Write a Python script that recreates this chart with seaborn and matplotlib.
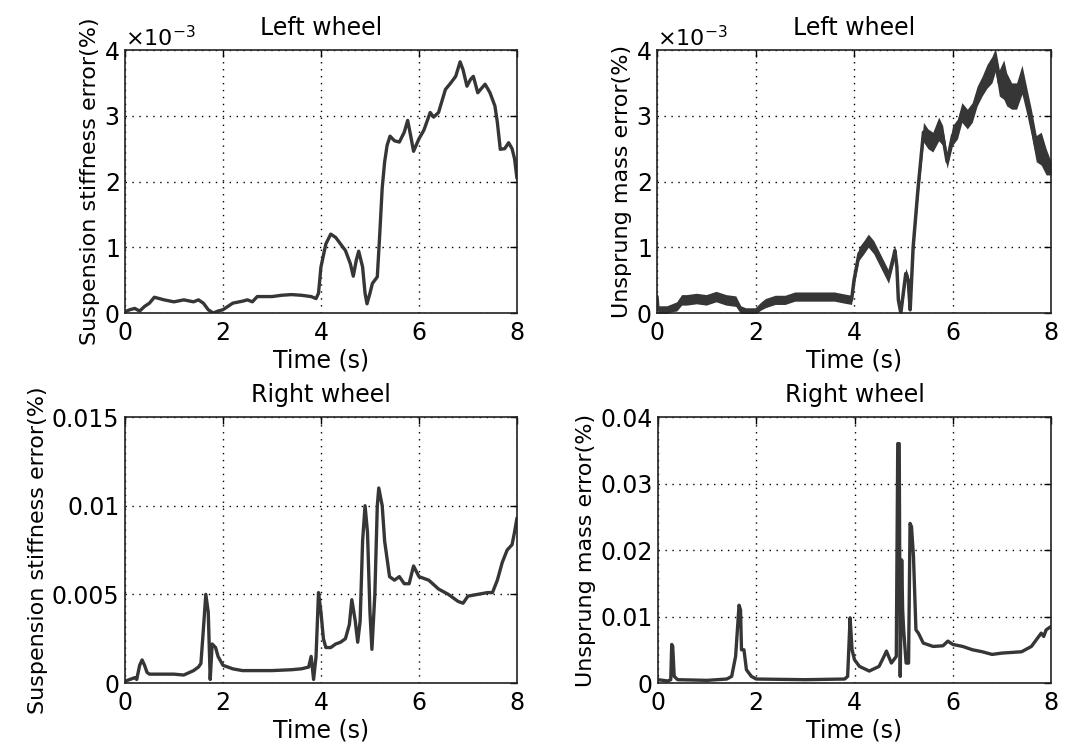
import numpy as np
import pandas as pd
import seaborn as sns
import matplotlib
matplotlib.use('Agg')
import matplotlib.pyplot as plt
from matplotlib.ticker import ScalarFormatter

# ---- data (time in s, errors in %) ----
# left wheel, suspension stiffness (x 1e-3)
t_ls = [0, 0.1, 0.2, 0.3, 0.4, 0.5, 0.6, 0.8, 1.0, 1.2, 1.4, 1.5, 1.6, 1.7, 1.8, 1.9,
        2.0, 2.2, 2.4, 2.5, 2.6, 2.7, 3.0, 3.2, 3.4, 3.6, 3.8, 3.9, 3.95, 4.0, 4.1, 4.2,
        4.3, 4.4, 4.5, 4.6, 4.66, 4.72, 4.77, 4.85, 4.9, 4.94, 5.0, 5.05, 5.1, 5.15, 5.2,
        5.25, 5.3, 5.35, 5.41, 5.5, 5.6, 5.7, 5.77, 5.83, 5.89, 6.0, 6.1, 6.23, 6.3, 6.4,
        6.54, 6.65, 6.75, 6.84, 6.9, 6.98, 7.05, 7.11, 7.2, 7.28, 7.35, 7.45, 7.55, 7.6,
        7.66, 7.75, 7.83, 7.9, 7.95, 8.0]
left_stiff = [0.02, 0.05, 0.07, 0.03, 0.1, 0.15, 0.24, 0.2, 0.17, 0.2, 0.17, 0.2, 0.15,
              0.05, 0.0, 0.03, 0.05, 0.15, 0.18, 0.2, 0.17, 0.25, 0.25, 0.27, 0.28, 0.27,
              0.25, 0.22, 0.3, 0.7, 1.05, 1.2, 1.15, 1.05, 0.95, 0.75, 0.56, 0.8, 0.94,
              0.7, 0.3, 0.14, 0.3, 0.45, 0.5, 0.55, 1.2, 1.9, 2.3, 2.55, 2.69, 2.62, 2.6,
              2.75, 2.93, 2.7, 2.46, 2.65, 2.78, 3.05, 2.98, 3.05, 3.4, 3.5, 3.6, 3.82,
              3.7, 3.45, 3.55, 3.6, 3.35, 3.42, 3.48, 3.35, 3.15, 2.9, 2.49, 2.5, 2.59,
              2.5, 2.35, 2.05]

# left wheel, unsprung mass (x 1e-3): centre and half-width of the noisy band
t_lm = [0, 0.02, 0.1, 0.2, 0.3, 0.4, 0.5, 0.6, 0.8, 1.0, 1.2, 1.4, 1.6, 1.7, 1.8, 2.0,
        2.1, 2.2, 2.4, 2.6, 2.8, 3.0, 3.2, 3.4, 3.6, 3.8, 3.95, 4.0, 4.1, 4.2, 4.29,
        4.4, 4.5, 4.6, 4.7, 4.8, 4.83, 4.87, 4.9, 4.95, 5.0, 5.05, 5.1, 5.14, 5.2, 5.3,
        5.41, 5.5, 5.6, 5.72, 5.8, 5.89, 6.0, 6.1, 6.19, 6.3, 6.4, 6.5, 6.6, 6.7, 6.8,
        6.87, 6.95, 7.04, 7.1, 7.2, 7.3, 7.41, 7.5, 7.6, 7.7, 7.8, 7.9, 8.0]
left_mass = [0.25, 0.05, 0.05, 0.05, 0.08, 0.1, 0.2, 0.2, 0.22, 0.2, 0.25, 0.2, 0.18,
             0.05, 0.03, 0.03, 0.1, 0.15, 0.2, 0.2, 0.25, 0.25, 0.25, 0.25, 0.25, 0.22,
             0.2, 0.5, 0.9, 1.0, 1.1, 1.0, 0.85, 0.7, 0.55, 0.85, 0.95, 0.7, 0.2, 0.0,
             0.3, 0.6, 0.5, 0.05, 1.0, 1.9, 2.75, 2.65, 2.6, 2.8, 2.7, 2.3, 2.7, 2.8,
             3.05, 2.95, 3.05, 3.3, 3.45, 3.6, 3.7, 3.85, 3.5, 3.55, 3.4, 3.3, 3.3, 3.55,
             3.25, 2.9, 2.5, 2.5, 2.3, 2.2]
left_mass_band = [0.05, 0.06, 0.06, 0.06, 0.06, 0.07, 0.08, 0.08, 0.08, 0.08, 0.08,
                  0.08, 0.08, 0.06, 0.05, 0.05, 0.06, 0.07, 0.07, 0.07, 0.07, 0.07,
                  0.07, 0.07, 0.07, 0.07, 0.07, 0.08, 0.1, 0.1, 0.1, 0.1, 0.1, 0.1,
                  0.1, 0.1, 0.08, 0.08, 0.06, 0.05, 0.08, 0.08, 0.08, 0.06, 0.1, 0.12,
                  0.15, 0.15, 0.15, 0.18, 0.15, 0.1, 0.15, 0.15, 0.15, 0.15, 0.15,
                  0.15, 0.15, 0.18, 0.2, 0.18, 0.2, 0.3, 0.25, 0.2, 0.2, 0.22, 0.2,
                  0.2, 0.2, 0.25, 0.2, 0.1]

# right wheel, suspension stiffness (x 1e-3)
t_rs = [0, 0.1, 0.2, 0.24, 0.3, 0.35, 0.4, 0.45, 0.5, 0.7, 1.0, 1.2, 1.4, 1.5, 1.55,
        1.6, 1.65, 1.7, 1.74, 1.78, 1.85, 1.9, 2.0, 2.2, 2.4, 2.6, 3.0, 3.4, 3.6, 3.75,
        3.8, 3.85, 3.9, 3.95, 4.0, 4.05, 4.1, 4.2, 4.3, 4.4, 4.5, 4.58, 4.63, 4.7, 4.75,
        4.8, 4.85, 4.9, 4.95, 5.0, 5.04, 5.1, 5.15, 5.18, 5.25, 5.3, 5.4, 5.5, 5.6, 5.7,
        5.8, 5.89, 6.0, 6.2, 6.4, 6.6, 6.8, 6.9, 7.0, 7.2, 7.4, 7.5, 7.6, 7.7, 7.8, 7.9,
        7.95, 8.0]
right_stiff = [0.1, 0.2, 0.3, 0.2, 1.0, 1.3, 1.0, 0.6, 0.5, 0.5, 0.5, 0.45, 0.7, 0.9,
               1.1, 3.0, 5.0, 4.0, 0.2, 2.2, 2.0, 1.5, 1.0, 0.8, 0.7, 0.7, 0.7, 0.75,
               0.8, 0.9, 1.5, 0.2, 1.5, 5.1, 4.0, 2.5, 2.0, 2.0, 2.2, 2.3, 2.5, 3.3,
               4.7, 3.5, 2.3, 3.5, 8.0, 10.0, 8.5, 4.0, 1.9, 5.0, 10.0, 11.0, 10.0, 8.0,
               6.0, 5.8, 6.0, 5.6, 5.6, 6.6, 6.0, 5.8, 5.3, 5.0, 4.6, 4.5, 4.9, 5.0,
               5.1, 5.1, 5.8, 6.8, 7.5, 7.8, 8.5, 9.3]

# right wheel, unsprung mass (x 1e-3)
t_rm = [0, 0.2, 0.26, 0.28, 0.3, 0.33, 0.4, 1.0, 1.4, 1.5, 1.58, 1.65, 1.68, 1.7,
        1.75, 1.8, 1.9, 2.0, 3.0, 3.8, 3.86, 3.91, 3.95, 4.0, 4.1, 4.3, 4.5, 4.6, 4.65,
        4.75, 4.85, 4.88, 4.91, 4.93, 4.96, 4.98, 5.0, 5.05, 5.1, 5.13, 5.16, 5.2,
        5.25, 5.3, 5.4, 5.6, 5.8, 5.9, 6.0, 6.2, 6.4, 6.6, 6.8, 7.0, 7.2, 7.4, 7.6,
        7.7, 7.8, 7.85, 7.9, 8.0]
right_mass = [0.5, 0.3, 0.5, 5.8, 5.5, 1.0, 0.5, 0.4, 0.6, 1.0, 4.0, 11.7, 11.0, 5.0,
              5.0, 2.0, 1.0, 0.6, 0.5, 0.6, 1.0, 9.8, 5.0, 3.5, 2.5, 1.8, 2.5, 4.0, 4.8,
              3.0, 4.0, 36.0, 36.0, 1.0, 18.5, 11.0, 8.0, 3.0, 3.0, 24.0, 23.5, 19.0,
              8.0, 7.5, 6.0, 5.5, 5.6, 6.3, 5.8, 5.5, 5.0, 4.7, 4.3, 4.5, 4.6, 4.7, 5.5,
              6.5, 7.5, 7.0, 8.0, 8.5]

titles = ['Left wheel', 'Left wheel', 'Right wheel', 'Right wheel']
ylabels = ['Suspension stiffness error(%)', 'Unsprung mass error(%)',
           'Suspension stiffness error(%)', 'Unsprung mass error(%)']
xticks = [0, 2, 4, 6, 8]
yticks_ls = [0, 1e-3, 2e-3, 3e-3, 4e-3]
yticks_rs = [0, 0.005, 0.01, 0.015]
yticklabels_rs = ['0', '0.005', '0.01', '0.015']
yticks_rm = [0, 0.01, 0.02, 0.03, 0.04]
yticklabels_rm = ['0', '0.01', '0.02', '0.03', '0.04']

sns.set_style('white')
plt.rcParams['font.family'] = ['DejaVu Sans']
plt.rcParams['mathtext.default'] = 'regular'
plt.rcParams['text.color'] = 'black'
plt.rcParams['axes.labelcolor'] = 'black'
plt.rcParams['xtick.color'] = 'black'
plt.rcParams['ytick.color'] = 'black'

line_col = '#363636'

fig = plt.figure(figsize=(10.79, 7.49), dpi=100)
ax1 = fig.add_axes([0.1158, 0.5821, 0.3633, 0.3511])
ax2 = fig.add_axes([0.6089, 0.5821, 0.3652, 0.3511])
ax3 = fig.add_axes([0.1158, 0.0881, 0.3633, 0.3551])
ax4 = fig.add_axes([0.6098, 0.0881, 0.3643, 0.3551])

df1 = pd.DataFrame({'t': t_ls, 'err': np.array(left_stiff) * 1e-3})
sns.lineplot(data=df1, x='t', y='err', ax=ax1, color=line_col, lw=2.4)

df2 = pd.DataFrame({'t': t_lm, 'err': np.array(left_mass) * 1e-3,
                    'band': np.array(left_mass_band) * 1e-3})
ax2.fill_between(df2['t'], df2['err'] - df2['band'], df2['err'] + df2['band'],
                 color=line_col, lw=0)
sns.lineplot(data=df2, x='t', y='err', ax=ax2, color=line_col, lw=2.5)

df3 = pd.DataFrame({'t': t_rs, 'err': np.array(right_stiff) * 1e-3})
sns.lineplot(data=df3, x='t', y='err', ax=ax3, color=line_col, lw=2.4)

df4 = pd.DataFrame({'t': t_rm, 'err': np.array(right_mass) * 1e-3})
sns.lineplot(data=df4, x='t', y='err', ax=ax4, color=line_col, lw=2.4)

axes = [ax1, ax2, ax3, ax4]
for i, ax in enumerate(axes):
    ax.set_xlim(0, 8)
    ax.set_xticks(xticks)
    ax.set_title(titles[i], fontsize=17, pad=11, color='black')
    ax.set_xlabel('Time (s)', fontsize=17, labelpad=2)
    ax.set_ylabel(ylabels[i], fontsize=16, labelpad=3)
    ax.grid(True, color='black', linestyle=(0, (1, 4)), linewidth=1.0)
    ax.tick_params(direction='in', length=5, width=1, labelsize=17,
                   top=True, right=True)
    ax.tick_params(axis='x', pad=6)
    ax.tick_params(axis='y', pad=4)
    for s in ax.spines.values():
        s.set_visible(True)
        s.set_color('#222222')
        s.set_linewidth(1.2)

for ax in [ax1, ax2]:
    ax.set_ylim(0, 4e-3)
    ax.set_yticks(yticks_ls)
    fmt = ScalarFormatter(useMathText=True)
    fmt.set_powerlimits((-2, 2))
    ax.yaxis.set_major_formatter(fmt)
    ax.yaxis.get_offset_text().set_fontsize(16)

ax3.set_ylim(0, 0.015)
ax3.set_yticks(yticks_rs)
ax3.set_yticklabels(yticklabels_rs)
ax4.set_ylim(0, 0.04)
ax4.set_yticks(yticks_rm)
ax4.set_yticklabels(yticklabels_rm)

fig.savefig('out.png', dpi=100, facecolor='white')
